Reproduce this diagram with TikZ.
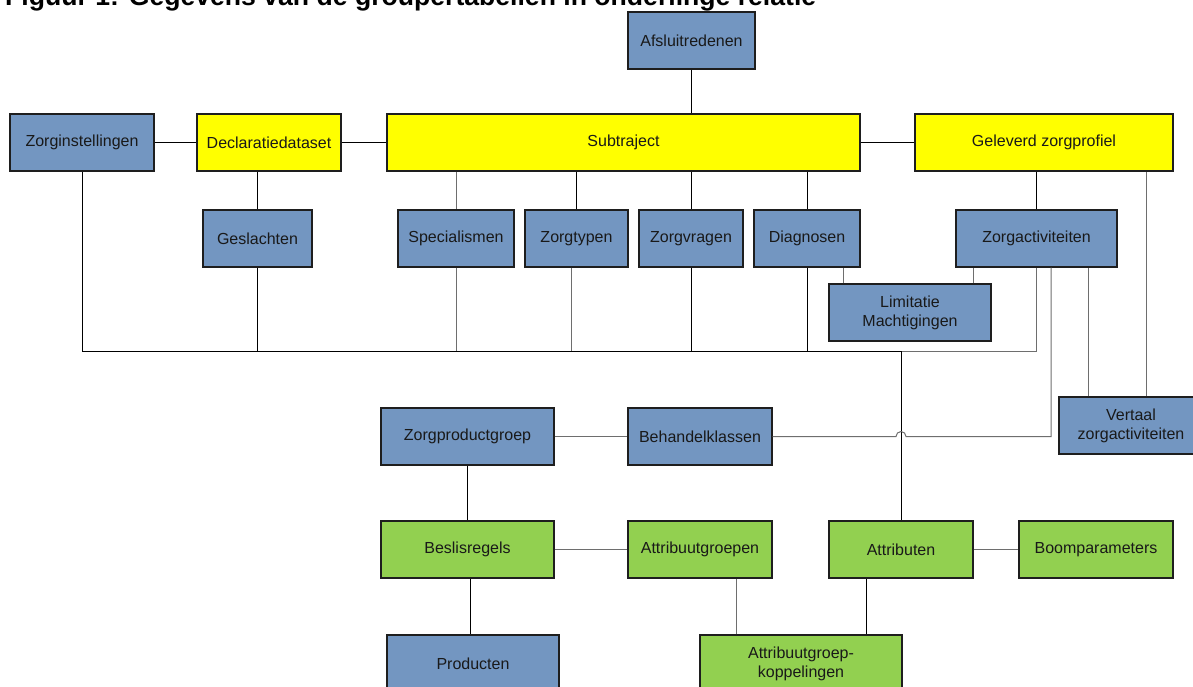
\documentclass[tikz,border=0pt]{standalone}
\usepackage{fontspec}
\setmainfont{Liberation Sans}
\usetikzlibrary{calc}
\definecolor{boxblue}{HTML}{7396C1}
\definecolor{boxyellow}{HTML}{FFFF00}
\definecolor{boxgreen}{HTML}{92D050}
\definecolor{linegray}{HTML}{6E6E6E}
\definecolor{borderdark}{HTML}{1E1E1E}
\begin{document}
\begin{tikzpicture}[x=1pt,y=-1pt,
  box/.style={draw=borderdark, line width=1.3pt, inner sep=0pt, minimum height=57pt,
    align=center, font=\fontsize{16}{19}\selectfont, text=black!90},
  bluebox/.style={box, fill=boxblue},
  yellowbox/.style={box, fill=boxyellow},
  greenbox/.style={box, fill=boxgreen},
  link/.style={draw=black, line width=1pt},
  glink/.style={draw=linegray, line width=1pt}]
\useasboundingbox (0,0) rectangle (1193,687);
\node[anchor=base west, inner sep=0pt, font=\fontsize{26.6}{30}\selectfont\bfseries] (title) at (5,6)
  {Figuur 1: Gegevens van de groupertabellen in onderlinge relatie};
% nodes
\node[bluebox, minimum width=127pt] (afs) at (691.5,40.5) {Afsluitredenen};
\node[bluebox, minimum width=144pt] (zi) at (82,142.5) {Zorginstellingen};
\node[yellowbox, minimum width=144pt] (dd) at (269,142.5) {Declaratiedataset};
\node[yellowbox, minimum width=473pt] (sub) at (623.5,142.5) {Subtraject};
\node[yellowbox, minimum width=258pt] (gz) at (1044,142.5) {Geleverd zorgprofiel};
\node[bluebox, minimum width=109pt] (ges) at (257.5,238.5) {Geslachten};
\node[bluebox, minimum width=116pt] (spe) at (456,238.5) {Specialismen};
\node[bluebox, minimum width=103pt] (zt) at (576.5,238.5) {Zorgtypen};
\node[bluebox, minimum width=104pt] (zv) at (691,238.5) {Zorgvragen};
\node[bluebox, minimum width=106pt] (dia) at (807,238.5) {Diagnosen};
\node[bluebox, minimum width=161pt] (za) at (1036.5,238.5) {Zorgactiviteiten};
\node[bluebox, minimum width=162pt] (lim) at (910,312.5) {Limitatie\\Machtigingen};
\node[bluebox, minimum width=144pt] (ver) at (1131,425.5) {Vertaal\\zorgactiviteiten};
\node[bluebox, minimum width=173pt] (zpg) at (467.5,436.5) {Zorgproductgroep};
\node[bluebox, minimum width=144pt] (bk) at (700,436.5) {Behandelklassen};
\node[greenbox, minimum width=173pt] (br) at (467.5,549.5) {Beslisregels};
\node[greenbox, minimum width=144pt] (ag) at (700,549.5) {Attribuutgroepen};
\node[greenbox, minimum width=144pt] (at) at (901,549.5) {Attributen};
\node[greenbox, minimum width=154pt] (bp) at (1096,549.5) {Boomparameters};
\node[bluebox, minimum width=172pt] (prod) at (473,663.5) {Producten};
\node[greenbox, minimum width=202pt] (agk) at (801,663.5) {Attribuutgroep-\\koppelingen};
% helper coordinates
\coordinate (busR) at (1036.5,351);
\coordinate (ztB) at ($(zt.south)+(-5.5,0)$);
\coordinate (limL) at ($(lim.north)+(-67,0)$);
\coordinate (limR) at ($(lim.north)+(63,0)$);
\coordinate (verA) at ($(ver.north)+(-43,0)$);
\coordinate (verB) at ($(ver.north)+(15,0)$);
\coordinate (bkR) at ($(za.south)+(14.5,0)$);
\coordinate (jump) at ($(at.north |- bk.east)+(-5,0)$);
\coordinate (prodT) at ($(prod.north)+(-3,0)$);
\coordinate (agkL) at ($(agk.north)+(-65,0)$);
\coordinate (agkR) at ($(agk.north)+(65,0)$);
% top connectors
\draw[link] (afs.south) -- (afs.south |- sub.north);
\draw[link] (zi) -- (dd);
\draw[link] (dd) -- (sub);
\draw[link] (sub) -- (gz);
\draw[link] (ges.north |- dd.south) -- (ges.north);
\draw[glink] (spe.north |- sub.south) -- (spe.north);
\draw[link] (zt.north |- sub.south) -- (zt.north);
\draw[link] (zv.north |- sub.south) -- (zv.north);
\draw[link] (dia.north |- sub.south) -- (dia.north);
\draw[link] (za.north |- gz.south) -- (za.north);
\draw[glink] (verB) -- (verB |- gz.south);
\draw[glink] (verA) -- (verA |- za.south);
\draw[glink] (limL) -- (limL |- dia.south);
\draw[glink] (limR) -- (limR |- za.south);
% bus
\draw[link] (zi.south) |- (at.north |- busR);
\draw[glink] (at.north |- busR) -- (busR) -- (za.south);
\draw[link] (ges.south) -- (ges.south |- busR);
\draw[glink] (spe.south) -- (spe.south |- busR);
\draw[glink] (ztB) -- (ztB |- busR);
\draw[link] (zv.south) -- (zv.south |- busR);
\draw[link] (dia.south) -- (dia.south |- busR);
\draw[link] (at.north |- busR) -- (at.north);
% middle
\draw[glink] (zpg) -- (bk);
\draw[glink] (bk.east) -- (jump) arc[start angle=180, end angle=360, radius=5] -| (bkR);
\draw[link] (zpg) -- (br);
\draw[glink] (br) -- (ag);
\draw[glink] (at) -- (bp);
\draw[link] (prodT |- br.south) -- (prodT);
\draw[glink] (agkL) -- (agkL |- ag.south);
\draw[link] (agkR) -- (agkR |- at.south);
\end{tikzpicture}
\end{document}
